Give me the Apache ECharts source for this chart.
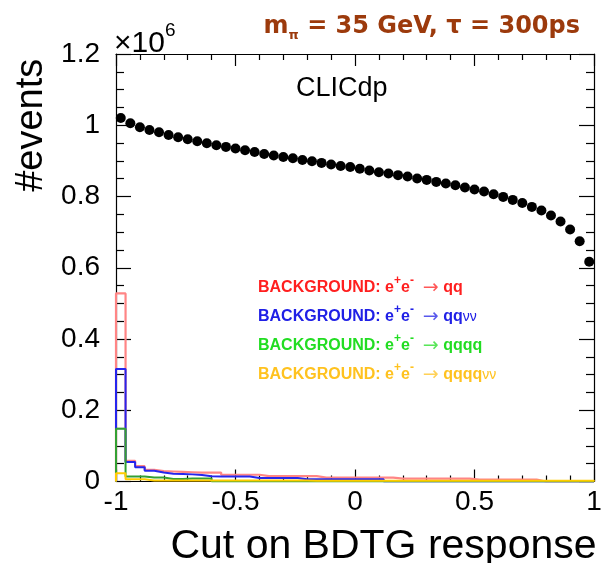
<!DOCTYPE html>
<html>
<head>
<meta charset="utf-8">
<script src="https://cdn.jsdelivr.net/npm/echarts@6/dist/echarts.min.js"></script>
<style>
html,body{margin:0;padding:0;background:#fff;}
#chart{width:604px;height:563px;}
</style>
</head>
<body>
<div id="chart"></div>
<script>
// Signal: number of events passing a cut on the BDTG response
const cutValues = [-0.98, -0.94, -0.9, -0.86, -0.82, -0.78, -0.74, -0.7, -0.66, -0.62,
  -0.58, -0.54, -0.5, -0.46, -0.42, -0.38, -0.34, -0.3, -0.26, -0.22,
  -0.18, -0.14, -0.1, -0.06, -0.02, 0.02, 0.06, 0.1, 0.14, 0.18,
  0.22, 0.26, 0.3, 0.34, 0.38, 0.42, 0.46, 0.5, 0.54, 0.58,
  0.62, 0.66, 0.7, 0.74, 0.78, 0.82, 0.86, 0.9, 0.94, 0.98];
const signalEvents = [1020500, 1005600, 994400, 986800, 980400, 972800, 966300, 960700, 955100, 949500,
  943900, 939200, 934600, 929900, 925100, 919500, 915000, 911100, 907400, 902700,
  899000, 894300, 889800, 885800, 883000, 878000, 873000, 868000, 864500, 860000,
  856000, 850500, 846600, 841000, 836400, 831700, 825200, 819600, 814000, 806500,
  798900, 790500, 782000, 770800, 760700, 746700, 729900, 707400, 674600, 616600];

// Background histograms: bin edges and contents
const binEdges = [-1, -0.96, -0.92, -0.88, -0.84, -0.8, -0.76, -0.72, -0.68, -0.64,
  -0.6, -0.56, -0.52, -0.48, -0.44, -0.4, -0.36, -0.32, -0.28, -0.24,
  -0.2, -0.16, -0.12, -0.08, -0.04, 0, 0.04, 0.08, 0.12, 0.16,
  0.2, 0.24, 0.28, 0.32, 0.36, 0.4, 0.44, 0.48, 0.52, 0.56,
  0.6, 0.64, 0.68, 0.72, 0.76, 0.8, 0.84, 0.88, 0.92, 0.96, 1];
const bkgQQ = [528000, 58000, 43000, 33000, 29000, 28000, 27000, 26000, 25000, 25000,
  25000, 19000, 19000, 19000, 19000, 15000, 15000, 15000, 15000, 15000,
  15000, 11000, 11000, 11000, 11000, 11000, 11000, 11000, 11000, 8000,
  8000, 8000, 8000, 8000, 8000, 8000, 8000, 5500, 5500, 5500,
  5500, 5500, 5500, 5500, 0, 0, 0, 0, 0, 0];
const bkgQQNuNu = [316000, 55000, 40000, 30000, 25000, 22000, 21000, 20000, 18000, 15000,
  14000, 14000, 14000, 14000, 10000, 10000, 10000, 10000, 10000, 6000,
  6000, 6000, 6000, 6000, 6000, 6000, 6000, 6000, 0, 0,
  0, 0, 0, 0, 0, 0, 0, 0, 0, 0,
  0, 0, 0, 0, 0, 0, 0, 0, 0, 0];
const bkgQQQQ = [148000, 14000, 14000, 11000, 11000, 7000, 7000, 8500, 8500, 8500,
  0, 0, 0, 0, 0, 0, 0, 0, 0, 0,
  0, 0, 0, 0, 0, 0, 0, 0, 0, 0,
  0, 0, 0, 0, 0, 0, 0, 0, 0, 0,
  0, 0, 0, 0, 0, 0, 0, 0, 0, 0];
const bkgQQQQNuNu = [23000, 6000, 6000, 3000, 3000, 3000, 3000, 3000, 3000, 3000,
  3000, 3000, 3000, 3000, 3000, 3000, 3000, 3000, 3000, 3000,
  2000, 2000, 2000, 2000, 2000, 2000, 2000, 2000, 2000, 2000,
  2000, 2000, 2000, 2000, 2000, 2000, 2000, 2000, 2000, 2000,
  2000, 2000, 2000, 2000, 2000, 2000, 2000, 2000, 2000, 2000];

const xTicks = ['-1', '-0.5', '0', '0.5', '1'];

function histOutline(values) {
  const n = values.length;
  const pts = [[binEdges[0], 0]];
  for (let i = 0; i < n; i++) pts.push([binEdges[i], values[i]]);
  pts.push([binEdges[n], values[n - 1]]);
  pts.push([binEdges[n], 0]);
  return pts;
}

const FONT = '"Liberation Sans", Arial, sans-serif';
const chart = echarts.init(document.getElementById('chart'), null, {renderer: 'canvas'});

const histSeries = (name, values, color, width) => ({
  name, type: 'line', step: 'end', symbol: 'none', silent: true,
  xAxisIndex: 0, yAxisIndex: 0,
  data: histOutline(values),
  lineStyle: {color, width}, z: 2
});

const legendRich = (color) => ({
  b: {fontFamily: FONT, fontWeight: 'bold', fontSize: 16, fill: color, lineHeight: 26, verticalAlign: 'middle'},
  sup: {fontFamily: FONT, fontWeight: 'bold', fontSize: 12, fill: color, lineHeight: 12, verticalAlign: 'top'},
  arr: {fontFamily: '"DejaVu Sans", sans-serif', fontWeight: 'normal', fontSize: 19, fill: color, opacity: 0.75, lineHeight: 26, verticalAlign: 'middle'},
  nu: {fontFamily: FONT, fontWeight: 'normal', fontSize: 14, fill: color, lineHeight: 26, verticalAlign: 'middle'}
});
const legendItems = [
  {text: '{b|BACKGROUND: e}{sup|+}{b|e}{sup|-}{b|  }{arr|→}{b| qq}', color: '#ff1f1f', y: 288},
  {text: '{b|BACKGROUND: e}{sup|+}{b|e}{sup|-}{b|  }{arr|→}{b| qq}{nu|νν}', color: '#2020e6', y: 317},
  {text: '{b|BACKGROUND: e}{sup|+}{b|e}{sup|-}{b|  }{arr|→}{b| qqqq}', color: '#22dd22', y: 346},
  {text: '{b|BACKGROUND: e}{sup|+}{b|e}{sup|-}{b|  }{arr|→}{b| qqqq}{nu|νν}', color: '#ffc21f', y: 375}
];

const option = {
  animation: false,
  backgroundColor: '#ffffff',
  grid: {left: 116, right: 10, top: 54, bottom: 81.5, containLabel: false, outerBoundsMode: 'none'},
  xAxis: [{
    type: 'value', min: -1, max: 1, interval: 0.5, position: 'bottom',
    axisLine: {show: true, onZero: false, lineStyle: {color: '#000', width: 1.2}},
    axisTick: {show: true, inside: true, length: 12, lineStyle: {color: '#000', width: 1.2}},
    minorTick: {show: true, splitNumber: 5, length: 6, lineStyle: {color: '#000', width: 1.2}},
    splitLine: {show: false},
    axisLabel: {show: true, margin: 7, fontFamily: FONT, fontSize: 28, color: '#000',
      formatter: (v) => xTicks[Math.round((v + 1) * 2)]},
    name: 'Cut on BDTG response', nameLocation: 'middle', nameGap: 45,
    nameTextStyle: {fontFamily: FONT, fontSize: 41, color: '#000', padding: [0, 0, 0, 57]}
  }, {
    type: 'value', min: -1, max: 1, interval: 0.5, position: 'top',
    axisLine: {show: true, onZero: false, lineStyle: {color: '#000', width: 1.2}},
    axisTick: {show: true, inside: true, length: 12, lineStyle: {color: '#000', width: 1.2}},
    minorTick: {show: true, splitNumber: 5, length: 6, lineStyle: {color: '#000', width: 1.2}},
    splitLine: {show: false}, axisLabel: {show: false}
  }],
  yAxis: [{
    type: 'value', min: 0, max: 1200000, interval: 200000, position: 'left',
    axisLine: {show: true, onZero: false, lineStyle: {color: '#000', width: 1.2}},
    axisTick: {show: true, inside: true, length: 15, lineStyle: {color: '#000', width: 1.2}},
    minorTick: {show: true, splitNumber: 4, length: 8, lineStyle: {color: '#000', width: 1.2}},
    splitLine: {show: false},
    axisLabel: {show: true, margin: 16, fontFamily: FONT, fontSize: 28, color: '#000',
      formatter: (v) => String(Math.round(v / 100000) / 10)},
    name: '#events', nameLocation: 'middle', nameGap: 62, nameRotate: 90,
    nameTextStyle: {fontFamily: FONT, fontSize: 38, color: '#000', padding: [0, 0, 0, 285]}
  }, {
    type: 'value', min: 0, max: 1200000, interval: 200000, position: 'right',
    axisLine: {show: true, onZero: false, lineStyle: {color: '#000', width: 1.2}},
    axisTick: {show: true, inside: true, length: 15, lineStyle: {color: '#000', width: 1.2}},
    minorTick: {show: true, splitNumber: 4, length: 8, lineStyle: {color: '#000', width: 1.2}},
    splitLine: {show: false}, axisLabel: {show: false}
  }],
  series: [
    histSeries('BACKGROUND: e+e- → qq', bkgQQ, '#ff8585', 2.2),
    histSeries('BACKGROUND: e+e- → qqνν', bkgQQNuNu, '#2525ee', 2),
    histSeries('BACKGROUND: e+e- → qqqq', bkgQQQQ, '#33a033', 2),
    histSeries('BACKGROUND: e+e- → qqqqνν', bkgQQQQNuNu, '#ffcc00', 2),
    {
      name: 'signal', type: 'scatter', xAxisIndex: 0, yAxisIndex: 0,
      symbol: 'circle', symbolSize: 10, itemStyle: {color: '#000', opacity: 1}, z: 5, silent: true,
      data: cutValues.map((x, i) => [x, signalEvents[i]])
    }
  ],
  graphic: [
    {
      type: 'text', right: 24, top: 15, silent: true,
      style: {
        text: '{t|m}{sub|π}{t| = 35 GeV, τ = 300ps}',
        rich: {
          t: {fontFamily: '"DejaVu Sans", Verdana, sans-serif', fontWeight: 'bold', fontSize: 24, fill: '#9c3a0c', lineHeight: 30, verticalAlign: 'middle'},
          sub: {fontFamily: '"DejaVu Sans", Verdana, sans-serif', fontWeight: 'bold', fontSize: 13, fill: '#9c3a0c', lineHeight: 13, verticalAlign: 'bottom'}
        }
      }
    },
    {
      type: 'text', left: 114, top: 21, silent: true,
      style: {
        text: '{a|×10}{s|6}',
        rich: {
          a: {fontFamily: FONT, fontSize: 30, fill: '#000', lineHeight: 38, verticalAlign: 'bottom'},
          s: {fontFamily: FONT, fontSize: 19, fill: '#000', lineHeight: 19, verticalAlign: 'top'}
        }
      }
    },
    {
      type: 'text', left: 296, top: 75, silent: true,
      style: {text: 'CLICdp', fontFamily: FONT, fontSize: 27, fill: '#000'}
    }
  ].concat(legendItems.map(it => ({
    type: 'text', left: 258, top: it.y - 13, silent: true,
    style: {text: it.text, rich: legendRich(it.color)}
  })))
};
chart.setOption(option);
</script>
</body>
</html>
